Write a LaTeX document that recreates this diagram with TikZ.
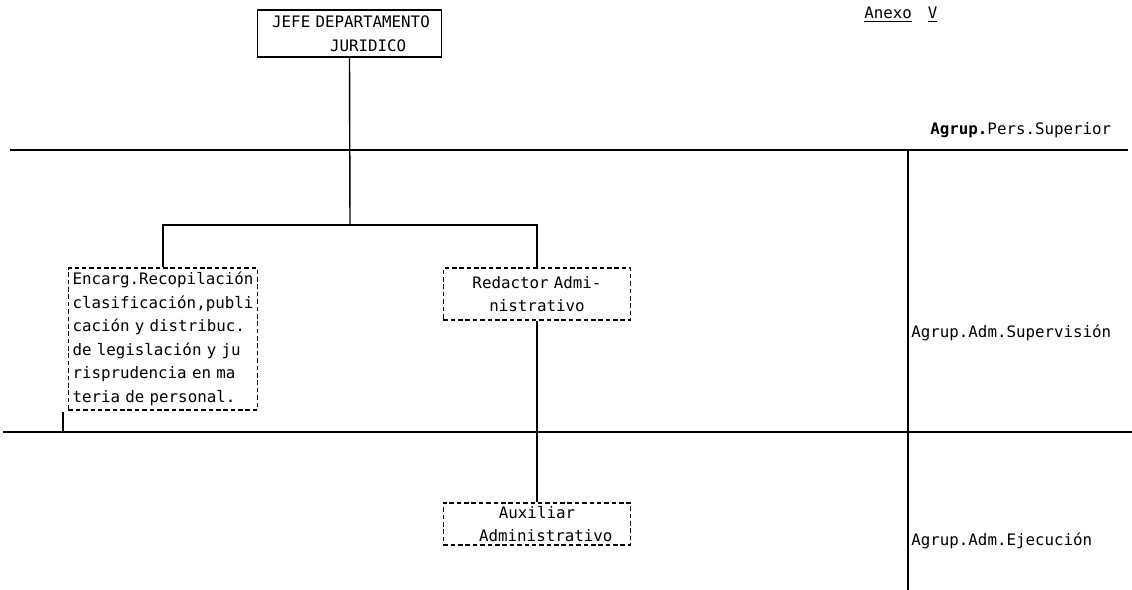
\documentclass[tikz,border=0pt]{standalone}
\usepackage{fontspec}
\setmonofont[WordSpace={1,0,0}]{DejaVu Sans Mono}
\begin{document}
\begin{tikzpicture}[x=0.02cm,y=-0.02cm,
  every node/.style={font=\ttfamily\fontsize{9}{13.4}\selectfont},
  rule/.style={line width=0.8pt},
  conn/.style={line width=0.8pt},
  solidbox/.style={draw,line width=0.8pt,inner ysep=0.5pt},
  dashbox/.style={draw,line width=0.9pt,dash pattern=on 2.6pt off 1.6pt,inner ysep=0.5pt},
  lbl/.style={anchor=west,inner sep=0pt}]
\useasboundingbox (0,0) rectangle (1132,590);
% level rules
\coordinate (h1a) at (10,150);  \coordinate (h1b) at (1128,150);
\coordinate (h2a) at (3,432);   \coordinate (h2b) at (1132,432);
\coordinate (va) at (908,150);  \coordinate (vb) at (908,590);
\draw[rule] (h1a) -- (h1b);
\draw[rule] (h2a) -- (h2b);
\draw[rule] (va) -- (vb);
\coordinate (tka) at (63,412); \coordinate (tkb) at (63,432);
\draw[rule] (tka) -- (tkb);
% boxes
\node[solidbox,text width=100pt,inner xsep=2.45pt,minimum height=26.6pt,align=left] (jefe) at (349.5,33.5)
  {\hspace*{6pt}JEFE DEPARTAMENTO\\\hspace*{38.9pt}JURIDICO};
\node[dashbox,text width=103pt,inner xsep=2.35pt,minimum height=80.5pt,align=left] (enc) at (163,339)
  {Encarg.Recopilación\\clasificación,publi\\cación y distribuc.\\de legislación y ju\\risprudencia en ma\\teria de personal.};
\node[dashbox,text width=102pt,inner xsep=2.3pt,minimum height=29.5pt,align=center] (red) at (537,294)
  {Redactor Admi-\\nistrativo};
\node[dashbox,text width=102pt,inner xsep=2.3pt,minimum height=23.8pt,align=center] (aux) at (537,524)
  {Auxiliar\\\hspace*{10pt}Administrativo};
% connectors
\coordinate (j) at (350,225);
\draw[conn] (jefe.south) -- (j);
\draw[conn] (enc.north) -- (enc.north |- j) -- (red.north |- j) -- (red.north);
\draw[conn] (red.south) -- (aux.north);
% labels
\node[lbl] (anexo) at (864,15) {\underline{Anexo}\hspace{1.0em}\underline{V}};
\node[lbl] (sup) at (930,130) {\textbf{Agrup.}Pers.Superior};
\node[lbl] (adm) at (911,333) {Agrup.Adm.Supervisión};
\node[lbl] (eje) at (911,541) {Agrup.Adm.Ejecución};
\end{tikzpicture}
\end{document}
